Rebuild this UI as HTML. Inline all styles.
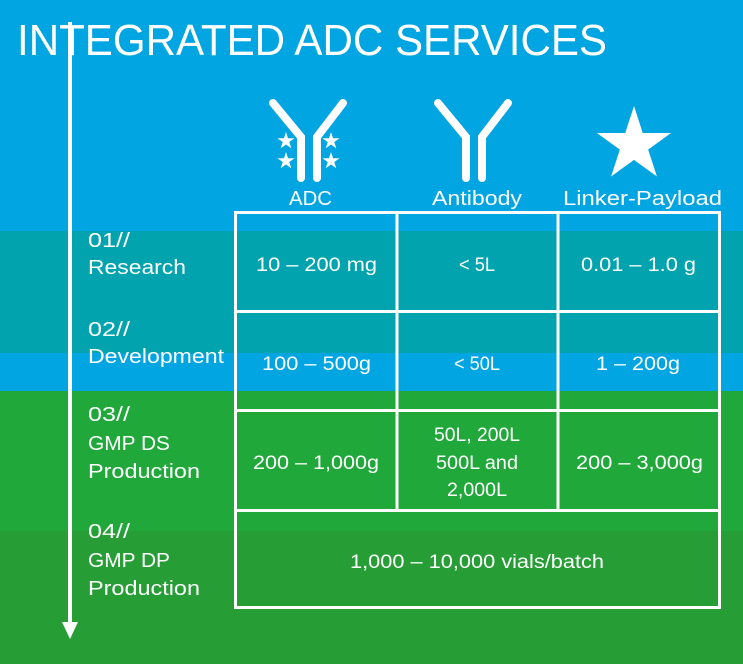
<!DOCTYPE html>
<html><head><meta charset="utf-8"><style>
html,body{margin:0;padding:0;width:743px;height:664px;overflow:hidden}
svg{display:block}
text{font-family:"Liberation Sans",sans-serif;fill:#fff}
</style></head><body>
<svg width="743" height="664" viewBox="0 0 743 664" xmlns="http://www.w3.org/2000/svg">
<defs>
<polygon id="st" points="0,-1 0.2245,-0.309 0.951,-0.309 0.363,0.118 0.588,0.809 0,0.382 -0.588,0.809 -0.363,0.118 -0.951,-0.309 -0.2245,-0.309"/>
</defs>
<rect x="0" y="0" width="743" height="231" fill="#00a5e1"/>
<rect x="0" y="231" width="743" height="122" fill="#00a3ae"/>
<rect x="0" y="353" width="743" height="38" fill="#00a5e1"/>
<rect x="0" y="391" width="743" height="140" fill="#21a83a"/>
<rect x="0" y="531" width="743" height="133" fill="#279d36"/>

<text x="17" y="55" font-size="44" textLength="590" lengthAdjust="spacingAndGlyphs">INTEGRATED ADC SERVICES</text>
<rect x="68" y="22" width="4" height="600" fill="#fff"/>
<polygon points="62,622 78,622 70,639" fill="#fff"/>

<g stroke="#fff" stroke-width="8" stroke-linecap="round" fill="none">
<path d="M273,103 L301,137 L301,178"/>
<path d="M343,103 L317,137 L317,178"/>
<path d="M438,103 L466,137 L466,178"/>
<path d="M508,103 L482,137 L482,178"/>
</g>
<g fill="#fff">
<use href="#st" transform="translate(286,141) scale(9)"/>
<use href="#st" transform="translate(286,161) scale(9)"/>
<use href="#st" transform="translate(331,141) scale(9)"/>
<use href="#st" transform="translate(331,161) scale(9)"/>
<use href="#st" transform="translate(634,145) scale(39)"/>
</g>
<g lengthAdjust="spacingAndGlyphs">
<text x="289" y="205" font-size="20" textLength="43" lengthAdjust="spacingAndGlyphs">ADC</text>
<text x="432" y="205" font-size="20" textLength="90" lengthAdjust="spacingAndGlyphs">Antibody</text>
<text x="563" y="205" font-size="20" textLength="159" lengthAdjust="spacingAndGlyphs">Linker-Payload</text>
</g>

<g stroke="#fff" stroke-width="3" fill="none">
<rect x="235.5" y="212.5" width="484" height="395"/>
<line x1="235" y1="311.5" x2="720" y2="311.5"/>
<line x1="235" y1="410.5" x2="720" y2="410.5"/>
<line x1="235" y1="510.5" x2="720" y2="510.5"/>
<line x1="397" y1="212" x2="397" y2="510"/>
<line x1="558" y1="212" x2="558" y2="510"/>
</g>

<g font-size="20">
<text x="88" y="247" textLength="42" lengthAdjust="spacingAndGlyphs">01//</text>
<text x="88" y="274" textLength="98" lengthAdjust="spacingAndGlyphs">Research</text>
<text x="88" y="336" textLength="42" lengthAdjust="spacingAndGlyphs">02//</text>
<text x="88" y="363" textLength="136" lengthAdjust="spacingAndGlyphs">Development</text>
<text x="88" y="421" textLength="42" lengthAdjust="spacingAndGlyphs">03//</text>
<text x="88" y="450" textLength="82" lengthAdjust="spacingAndGlyphs">GMP DS</text>
<text x="88" y="478" textLength="112" lengthAdjust="spacingAndGlyphs">Production</text>
<text x="88" y="538" textLength="42" lengthAdjust="spacingAndGlyphs">04//</text>
<text x="88" y="567" textLength="82" lengthAdjust="spacingAndGlyphs">GMP DP</text>
<text x="88" y="595" textLength="112" lengthAdjust="spacingAndGlyphs">Production</text>
</g>
<g font-size="19">
<text x="256" y="271" textLength="121" lengthAdjust="spacingAndGlyphs">10 – 200 mg</text>
<text x="459" y="271" textLength="36" lengthAdjust="spacingAndGlyphs">&lt; 5L</text>
<text x="581" y="271" textLength="115" lengthAdjust="spacingAndGlyphs">0.01 – 1.0 g</text>
<text x="262" y="370" textLength="109" lengthAdjust="spacingAndGlyphs">100 – 500g</text>
<text x="454" y="370" textLength="46" lengthAdjust="spacingAndGlyphs">&lt; 50L</text>
<text x="596" y="370" textLength="84" lengthAdjust="spacingAndGlyphs">1 – 200g</text>
<text x="253" y="469" textLength="126" lengthAdjust="spacingAndGlyphs">200 – 1,000g</text>
<text x="434" y="441" textLength="86" lengthAdjust="spacingAndGlyphs">50L, 200L</text>
<text x="436" y="469" textLength="82" lengthAdjust="spacingAndGlyphs">500L and</text>
<text x="447" y="496" textLength="60" lengthAdjust="spacingAndGlyphs">2,000L</text>
<text x="576" y="469" textLength="127" lengthAdjust="spacingAndGlyphs">200 – 3,000g</text>
<text x="350" y="568" textLength="254" lengthAdjust="spacingAndGlyphs">1,000 – 10,000 vials/batch</text>
</g>
</svg>
</body></html>
